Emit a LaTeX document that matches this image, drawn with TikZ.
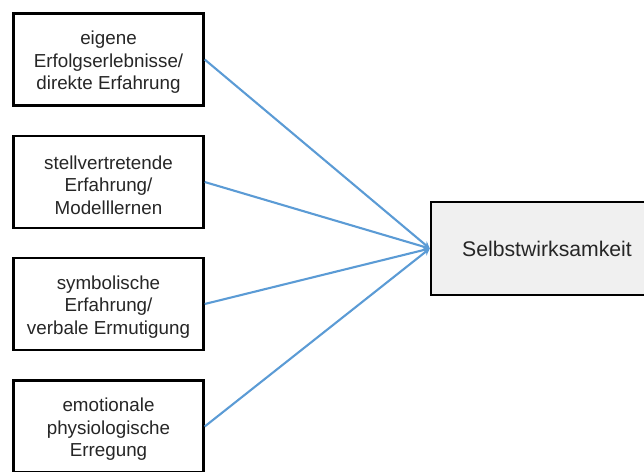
\documentclass[tikz,border=0pt]{standalone}
\usepackage{fontspec}
\setmainfont{Liberation Sans}
\usetikzlibrary{arrows.meta}
\definecolor{arrowblue}{HTML}{5B9BD5}
\definecolor{boxgray}{HTML}{F0F0F0}
% taller first line, so the text block sits a little below the box centre
\newcommand{\firstlinestrut}{\rule{0pt}{19.5pt}}
\begin{document}
\begin{tikzpicture}[x=1pt,y=-1pt,
  srcbox/.style={draw=black, line width=2.4pt, fill=white, minimum width=190pt, minimum height=92pt,
    inner sep=0pt, align=center, font=\fontsize{18.8}{22.5}\selectfont, text=black!85},
  goalbox/.style={draw=black, line width=2.4pt, fill=boxgray, minimum width=232pt, minimum height=93pt,
    inner sep=0pt, align=center, font=\fontsize{21.2}{24}\selectfont, text=black!85},
  link/.style={draw=arrowblue, line width=2.1pt, -{Stealth[length=7pt,width=7pt]}}]
  \useasboundingbox (0,0) rectangle (644,471);
  \begin{scope}
    \clip (0,0) rectangle (644,471);
    \node[srcbox] (s1) at (108.5,59.5) {\firstlinestrut eigene\\Erfolgserlebnisse/\\direkte Erfahrung};
    \node[srcbox] (s2) at (108.5,182) {\firstlinestrut stellvertretende\\Erfahrung/\\Modelllernen};
    \node[srcbox] (s3) at (108.5,304) {\firstlinestrut symbolische\\Erfahrung/\\verbale Ermutigung};
    \node[srcbox] (s4) at (108.5,426.5) {\firstlinestrut emotionale\\physiologische\\Erregung};
    \node[goalbox] (g) at (547,248.5) {Selbstwirksamkeit};
    \foreach \s in {s1,s2,s3,s4}
      \draw[link] (\s.east) -- (g.west);
  \end{scope}
\end{tikzpicture}
\end{document}
